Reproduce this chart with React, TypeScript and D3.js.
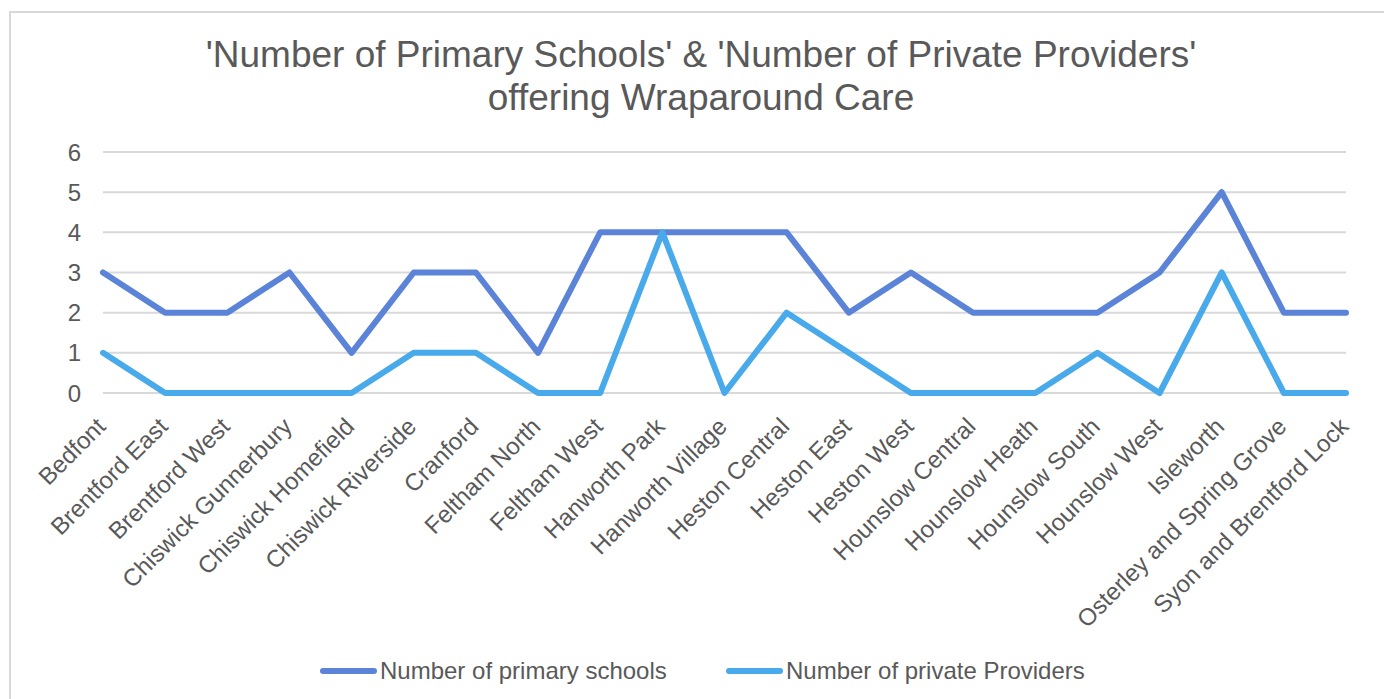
import React from "react";
import * as d3 from "d3";

const categories = [
  "Bedfont", "Brentford East", "Brentford West", "Chiswick Gunnerbury", "Chiswick Homefield",
  "Chiswick Riverside", "Cranford", "Feltham North", "Feltham West", "Hanworth Park",
  "Hanworth Village", "Heston Central", "Heston East", "Heston West", "Hounslow Central",
  "Hounslow Heath", "Hounslow South", "Hounslow West", "Isleworth", "Osterley and Spring Grove",
  "Syon and Brentford Lock",
];
const primarySchools = [3, 2, 2, 3, 1, 3, 3, 1, 4, 4, 4, 4, 2, 3, 2, 2, 2, 3, 5, 2, 2];
const privateProviders = [1, 0, 0, 0, 0, 1, 1, 0, 0, 4, 0, 2, 1, 0, 0, 0, 1, 0, 3, 0, 0];
const yTicks = [0, 1, 2, 3, 4, 5, 6];
const titleLines = [
  "'Number of Primary Schools' & 'Number of Private Providers'",
  "offering Wraparound Care",
];
const seriesNames = ["Number of primary schools", "Number of private Providers"];
const seriesColors = ["#5B84D9", "#48A9EB"];

const W = 1384;
const H = 699;
const FONT = "'Liberation Sans', Arial, sans-serif";
const TEXT = "#595959";

export default function App() {
  const x = d3.scalePoint<string>().domain(categories).range([103, 1346]).padding(0);
  const y = d3.scaleLinear().domain([0, 6]).range([393, 152]);
  const line = d3
    .line<number>()
    .x((_, i) => x(categories[i]) as number)
    .y((d) => y(d));
  const series = [primarySchools, privateProviders];
  const legendX = [320, 726];

  return (
    <svg
      width={W}
      height={H}
      style={{ position: "absolute", left: 0, top: 0, background: "#fff" }}
      fontFamily={FONT}
    >
      <rect x={10} y={12} width={W + 20} height={H + 20} fill="#fff" stroke="#D9D9D9" strokeWidth={2} />
      {titleLines.map((t, i) => (
        <text key={i} x={701} y={67 + i * 43} textAnchor="middle" fontSize={37} fill={TEXT}>
          {t}
        </text>
      ))}
      {yTicks.map((t) => (
        <g key={t}>
          <line x1={103} x2={1346} y1={y(t)} y2={y(t)} stroke="#D9D9D9" strokeWidth={2} />
          <text x={81} y={y(t)} dy="0.36em" textAnchor="end" fontSize={24} fill={TEXT}>
            {t}
          </text>
        </g>
      ))}
      {categories.map((c) => (
        <text
          key={c}
          transform={`translate(${(x(c) as number) + 4},${428}) rotate(-45)`}
          textAnchor="end"
          fontSize={24}
          fill={TEXT}
        >
          {c}
        </text>
      ))}
      {series.map((s, i) => (
        <path
          key={i}
          d={line(s) as string}
          fill="none"
          stroke={seriesColors[i]}
          strokeWidth={6}
          strokeLinejoin="round"
          strokeLinecap="round"
        />
      ))}
      {seriesNames.map((n, i) => (
        <g key={n}>
          <line
            x1={legendX[i] + 3}
            x2={legendX[i] + 54}
            y1={671}
            y2={671}
            stroke={seriesColors[i]}
            strokeWidth={6}
            strokeLinecap="round"
          />
          <text x={legendX[i] + 60} y={679} fontSize={24} fill={TEXT}>
            {n}
          </text>
        </g>
      ))}
    </svg>
  );
}
